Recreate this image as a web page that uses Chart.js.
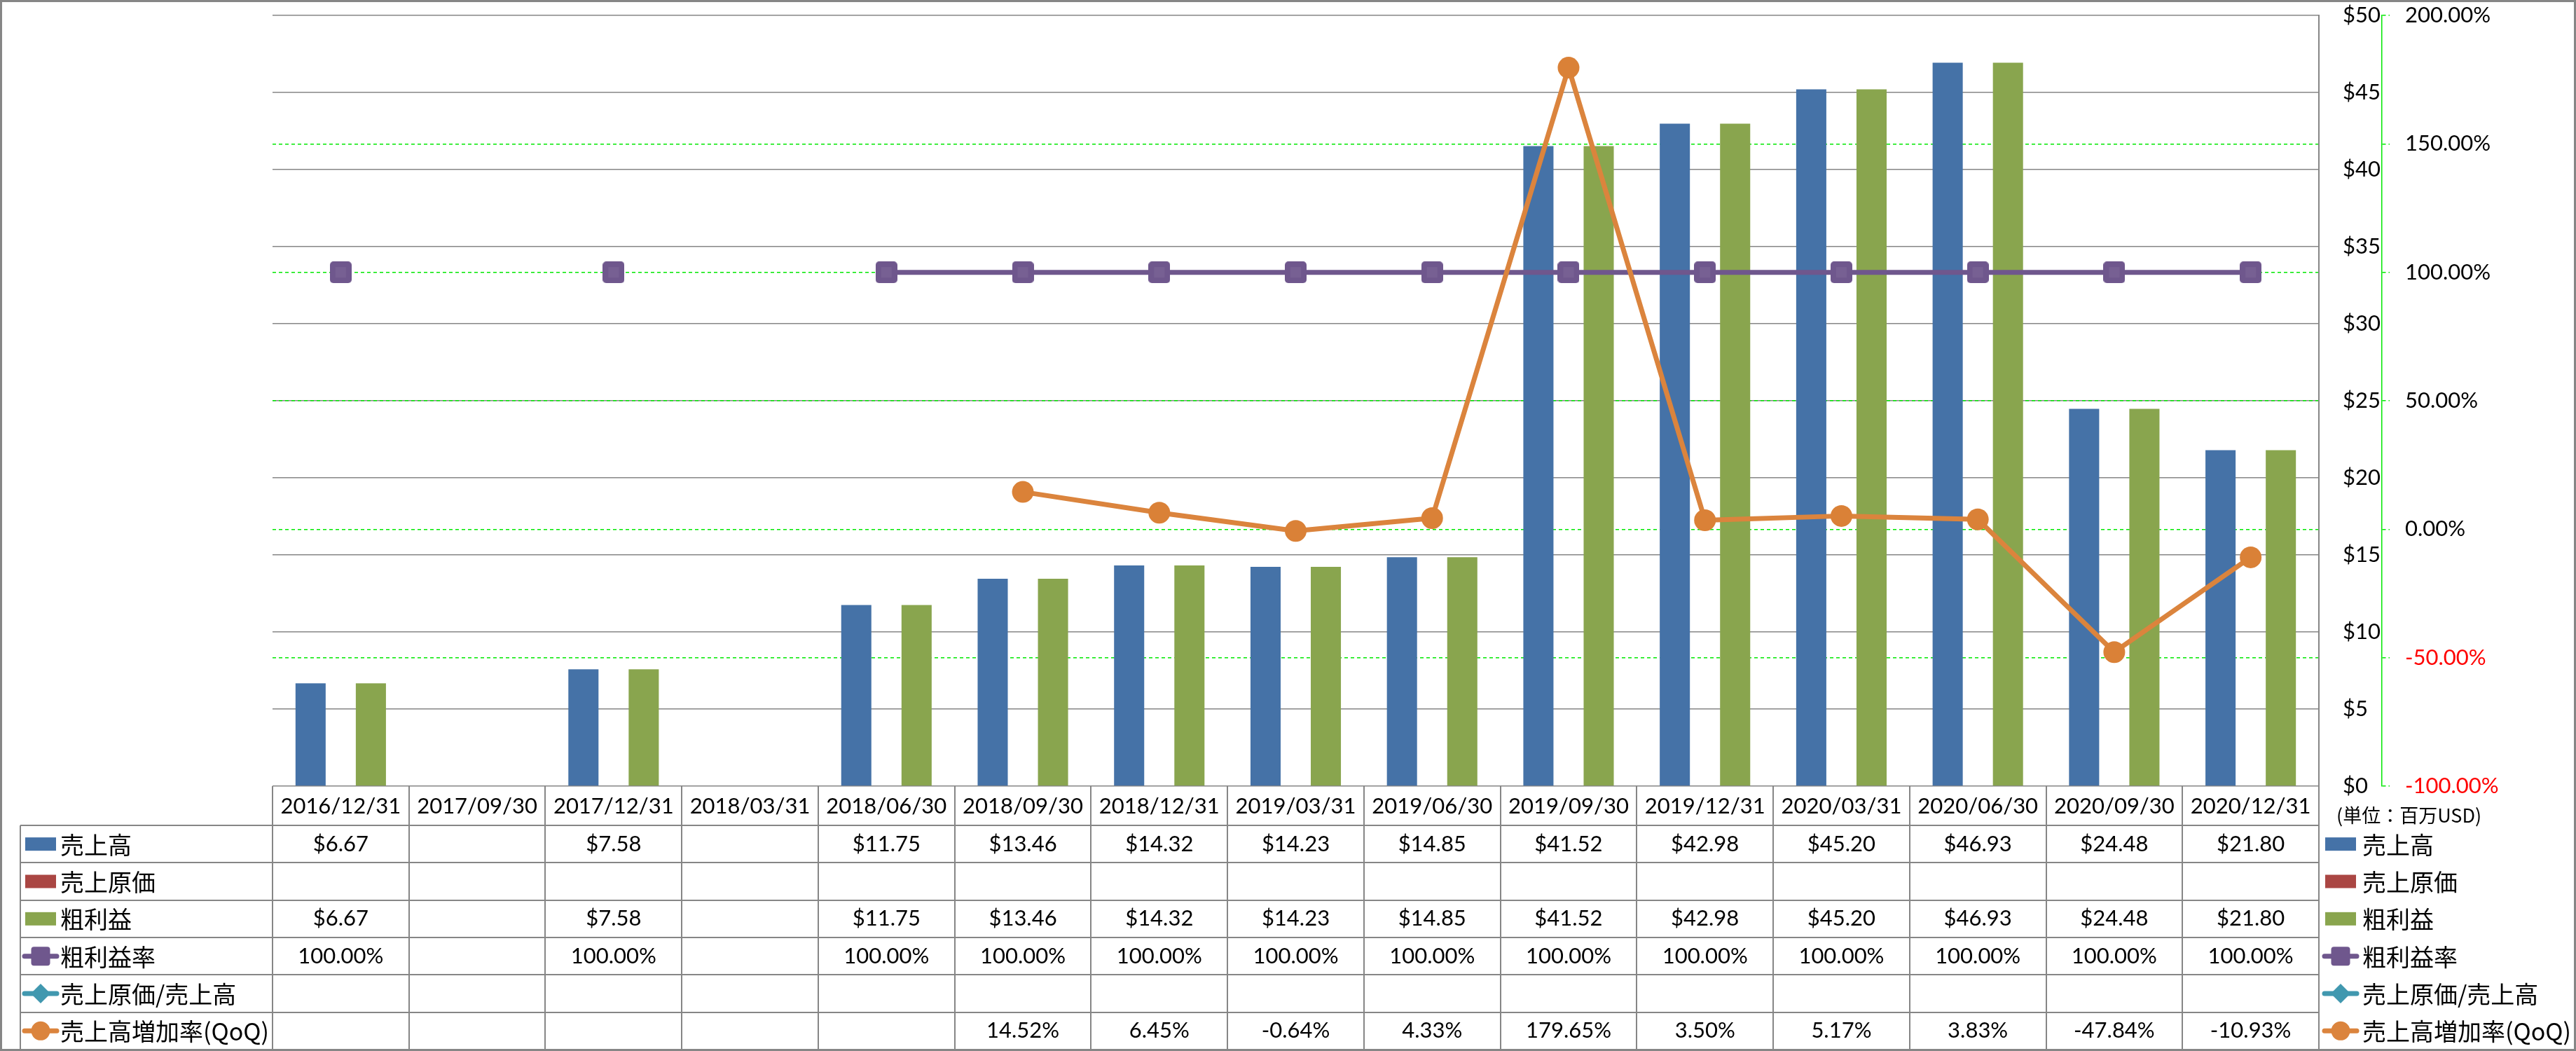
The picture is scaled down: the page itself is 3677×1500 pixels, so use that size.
<!DOCTYPE html>
<html>
<head>
<meta charset="utf-8">
<script src="https://cdn.jsdelivr.net/npm/chart.js@4.4.1/dist/chart.umd.min.js"></script>
<style>
html,body{margin:0;padding:0;background:#fff;overflow:hidden}
#wrap{position:relative;width:3677px;height:1500px}
canvas{display:block}
</style>
</head>
<body>
<div id="wrap"><canvas id="c" width="3677" height="1500"></canvas></div>
<script>
// ---- data ----
const categories = ['2016/12/31','2017/09/30','2017/12/31','2018/03/31','2018/06/30','2018/09/30','2018/12/31','2019/03/31','2019/06/30','2019/09/30','2019/12/31','2020/03/31','2020/06/30','2020/09/30','2020/12/31'];
const sales = [6.67, null, 7.58, null, 11.75, 13.46, 14.32, 14.23, 14.85, 41.52, 42.98, 45.20, 46.93, 24.48, 21.80];
const costOfSales = [null, null, null, null, null, null, null, null, null, null, null, null, null, null, null];
const grossProfit = [6.67, null, 7.58, null, 11.75, 13.46, 14.32, 14.23, 14.85, 41.52, 42.98, 45.20, 46.93, 24.48, 21.80];
const grossMargin = [100, null, 100, null, 100, 100, 100, 100, 100, 100, 100, 100, 100, 100, 100];
const costRatio = [null, null, null, null, null, null, null, null, null, null, null, null, null, null, null];
const salesGrowthQoQ = [null, null, null, null, null, 14.52, 6.45, -0.64, 4.33, 179.65, 3.50, 5.17, 3.83, -47.84, -10.93];
const seriesNames = ['売上高', '売上原価', '粗利益', '粗利益率', '売上原価/売上高', '売上高増加率(QoQ)'];
const unitLabel = '(単位：百万USD)';

// ---- styles ----
const COL = {
  blue: '#4572A7', red: '#AA4643', green: '#89A54E',
  purple: '#6F578D', teal: '#4198AF', orange: '#DB843D',
  grid: '#868686', dash: '#00E800'
};
const NUM_FONT = 'Lato, "Liberation Sans", sans-serif';
const JP_FONT = '"Noto Sans CJK JP", "Noto Sans", sans-serif';

const money = v => v == null ? '' : '$' + v.toFixed(2);
const pct = v => v == null ? '' : v.toFixed(2) + '%';

function roundSquare(size, color, r) {
  const c = document.createElement('canvas');
  c.width = size; c.height = size;
  const g = c.getContext('2d');
  g.fillStyle = color;
  g.beginPath();
  g.roundRect(0, 0, size, size, r);
  g.fill();
  g.fillStyle = 'rgba(255,255,255,0.06)';
  g.fillRect(size * 0.25, size * 0.25, size * 0.5, size * 0.5);
  return c;
}
const purpleMarker = roundSquare(31, COL.purple, 5);

const rows = [
  {name: seriesNames[0], color: COL.blue, kind: 'bar', values: sales, fmt: money},
  {name: seriesNames[1], color: COL.red, kind: 'bar', values: costOfSales, fmt: money},
  {name: seriesNames[2], color: COL.green, kind: 'bar', values: grossProfit, fmt: money},
  {name: seriesNames[3], color: COL.purple, kind: 'line', marker: 'square', values: grossMargin, fmt: pct},
  {name: seriesNames[4], color: COL.teal, kind: 'line', marker: 'diamond', values: costRatio, fmt: pct},
  {name: seriesNames[5], color: COL.orange, kind: 'line', marker: 'circle', values: salesGrowthQoQ, fmt: pct}
];

function drawSwatch(ctx, cx, cy, row) {
  ctx.save();
  if (row.kind === 'bar') {
    ctx.fillStyle = row.color;
    ctx.fillRect(cx - 22, cy - 9.5, 44, 19);
  } else {
    ctx.strokeStyle = row.color;
    ctx.lineWidth = 7;
    ctx.lineCap = 'round';
    ctx.beginPath();
    ctx.moveTo(cx - 23, cy); ctx.lineTo(cx + 23, cy);
    ctx.stroke();
    ctx.fillStyle = row.color;
    ctx.beginPath();
    if (row.marker === 'square') {
      ctx.roundRect(cx - 13.5, cy - 13.5, 27, 27, 4);
    } else if (row.marker === 'diamond') {
      ctx.moveTo(cx, cy - 14); ctx.lineTo(cx + 14, cy); ctx.lineTo(cx, cy + 14); ctx.lineTo(cx - 14, cy); ctx.closePath();
    } else {
      ctx.arc(cx, cy, 13.5, 0, Math.PI * 2);
    }
    ctx.fill();
  }
  ctx.restore();
}

const tablePlugin = {
  id: 'dataTable',
  beforeDraw(chart) {
    const ctx = chart.ctx;
    ctx.save();
    ctx.fillStyle = '#fff';
    ctx.fillRect(0, 0, chart.width, chart.height);
    ctx.restore();
  },
  afterDraw(chart) {
    const ctx = chart.ctx;
    const xs = chart.scales.x;
    const ca = chart.chartArea;
    const n = categories.length;
    const colW = (ca.right - ca.left) / n;
    const tableTop = xs.bottom;
    const tableBottom = chart.height - 2;
    const tableLeft = 29;
    const rowH = (tableBottom - tableTop) / rows.length;

    ctx.save();
    ctx.strokeStyle = COL.grid;
    ctx.lineWidth = 2;
    ctx.beginPath();
    for (let r = 0; r <= rows.length; r++) {
      const y = Math.round(tableTop + r * rowH);
      ctx.moveTo(tableLeft, y); ctx.lineTo(ca.right, y);
    }
    for (let k = 0; k <= n; k++) {
      const x = Math.round(ca.left + k * colW);
      ctx.moveTo(x, ca.bottom); ctx.lineTo(x, tableBottom);
    }
    ctx.moveTo(tableLeft, tableTop); ctx.lineTo(tableLeft, tableBottom);
    ctx.stroke();

    ctx.textBaseline = 'middle';
    rows.forEach((row, r) => {
      const cy = tableTop + (r + 0.5) * rowH;
      drawSwatch(ctx, 58, cy, row);
      ctx.fillStyle = '#000';
      ctx.textAlign = 'left';
      ctx.font = '34px ' + JP_FONT;
      ctx.fillText(row.name, 86, cy + 1);
      drawSwatch(ctx, 3341, cy, row);
      ctx.fillText(row.name, 3372, cy + 1);
      ctx.font = '31px ' + NUM_FONT;
      ctx.textAlign = 'center';
      row.values.forEach((v, i) => {
        const t = row.fmt(v);
        if (t) ctx.fillText(t, xs.getPixelForValue(i), cy);
      });
    });

    ctx.font = '27px ' + JP_FONT;
    ctx.textAlign = 'left';
    ctx.fillText(unitLabel, 3335, 1164);

    ctx.strokeStyle = '#868686';
    ctx.lineWidth = 3;
    ctx.strokeRect(1.5, 1.5, chart.width - 3, chart.height - 3);
    ctx.restore();
  }
};

const noPad = s => { s.paddingTop = 0; s.paddingBottom = 0; s.paddingLeft = 0; s.paddingRight = 0; };

function build() {
  new Chart(document.getElementById('c'), {
    type: 'bar',
    data: {
      labels: categories,
      datasets: [
        {label: seriesNames[0], data: sales, backgroundColor: COL.blue, yAxisID: 'y', order: 3},
        {label: seriesNames[1], data: costOfSales, backgroundColor: COL.red, yAxisID: 'y', order: 3},
        {label: seriesNames[2], data: grossProfit, backgroundColor: COL.green, yAxisID: 'y', order: 3},
        {type: 'line', label: seriesNames[3], data: grossMargin, yAxisID: 'y1', order: 2,
         borderColor: COL.purple, backgroundColor: COL.purple, borderWidth: 7, spanGaps: false,
         pointStyle: purpleMarker, pointRadius: 15, pointBorderWidth: 0, tension: 0},
        {type: 'line', label: seriesNames[4], data: costRatio, yAxisID: 'y1', order: 1,
         borderColor: COL.teal, backgroundColor: COL.teal, borderWidth: 7,
         pointStyle: 'rectRot', pointRadius: 15, pointBorderWidth: 0},
        {type: 'line', label: seriesNames[5], data: salesGrowthQoQ, yAxisID: 'y1', order: 0,
         borderColor: COL.orange, backgroundColor: '#DA8137', borderWidth: 7, spanGaps: false,
         pointStyle: 'circle', pointRadius: 15.5, pointBorderWidth: 0, tension: 0, borderJoinStyle: 'round'}
      ]
    },
    options: {
      responsive: false,
      maintainAspectRatio: false,
      devicePixelRatio: 1,
      animation: false,
      events: [],
      datasets: {bar: {categoryPercentage: 0.663, barPercentage: 1}},
      layout: {autoPadding: false, padding: {left: 389, top: 22, right: 77, bottom: 322}},
      plugins: {legend: {display: false}, tooltip: {enabled: false}, title: {display: false}},
      scales: {
        x: {
          position: 'bottom',
          grid: {display: false, drawTicks: false},
          border: {display: false},
          ticks: {autoSkip: false, maxRotation: 0, minRotation: 0, padding: 10,
                  color: '#000', font: {family: NUM_FONT, size: 31}},
          afterFit: s => { s.height = 56; noPad(s); }
        },
        y: {
          position: 'right',
          min: 0, max: 50,
          grid: {color: COL.grid, lineWidth: 1.5, drawTicks: false},
          border: {display: true, color: COL.grid, width: 2},
          ticks: {stepSize: 5, padding: 34, color: '#000', font: {family: NUM_FONT, size: 31},
                  callback: v => '$' + v},
          afterFit: s => { s.width = 90; noPad(s); }
        },
        y1: {
          position: 'right',
          min: -100, max: 200,
          grid: {
            drawOnChartArea: true, drawTicks: true, tickLength: 11, lineWidth: 1.5,
            color: c => (c.tick && (c.tick.value === 200 || c.tick.value === -100)) ? 'rgba(0,0,0,0)' : COL.dash,
            tickColor: COL.dash, tickWidth: 1.5, tickBorderDash: [5, 4], borderDash: [5, 4]
          },
          border: {display: true, color: COL.dash, width: 1.5, dash: [5, 4]},
          ticks: {stepSize: 50, padding: 22, font: {family: NUM_FONT, size: 31},
                  color: c => (c.tick && c.tick.value < 0) ? '#FF0000' : '#000',
                  callback: v => v.toFixed(2) + '%'},
          afterFit: s => { s.width = 200; noPad(s); }
        }
      }
    },
    plugins: [tablePlugin]
  });
}

const fontLoads = [
  '31px Lato', '34px "Noto Sans CJK JP"', '27px "Noto Sans CJK JP"'
].map(f => document.fonts ? document.fonts.load(f, '売上高$0123456789%') : Promise.resolve());
Promise.all(fontLoads).then(build, build);
</script>
</body>
</html>
